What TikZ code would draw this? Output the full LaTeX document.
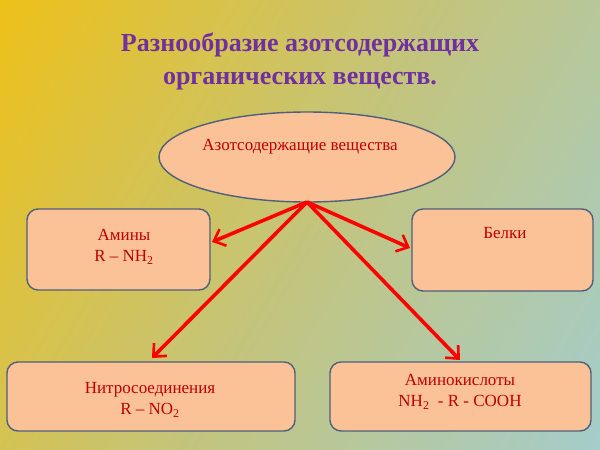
\documentclass[tikz,border=0pt]{standalone}
\usepackage{fontspec}
\setmainfont{Liberation Serif}
\usetikzlibrary{arrows.meta}
\definecolor{boxfill}{HTML}{FBC197}
\definecolor{edge}{HTML}{50607A}
\definecolor{txt}{HTML}{C00000}
\definecolor{ttl}{HTML}{7030A0}
\definecolor{bgA}{HTML}{F8C000}
\definecolor{bgB}{HTML}{9CCFE0}
\definecolor{bgM}{HTML}{C4C47A}
\begin{document}
\begin{tikzpicture}[x=1pt,y=-1pt,
  boxst/.style={draw=edge,line width=1.4pt,fill=boxfill,rounded corners=11pt},
  lbl/.style={text=txt,font=\fontsize{17}{21}\selectfont,align=center},
  arr/.style={draw=red,line width=3.6pt,-{Straight Barb[length=10pt,width=18pt,line width=2.6pt]}}]
\useasboundingbox (0,0) rectangle (600,450);
\shade[left color=bgA, right color=bgB, middle color=bgM, shading angle=60] (-200,-200) rectangle (800,650);
\node[text=ttl,font=\bfseries\fontsize{26}{33}\selectfont,align=center] (title) at (300,61) {Разнообразие азотсодержащих\\органических веществ.};
\draw[boxst] (27,209) rectangle (210,290);
\node[lbl] (am) at (124,247) {Амины\\R – NH\textsubscript{2}};
\draw[boxst] (412,209) rectangle (593,291);
\node[lbl] (be) at (505,233) {Белки};
\draw[boxst] (7,362) rectangle (295,431);
\node[lbl] (ni) at (150,400) {Нитросоединения\\R – NO\textsubscript{2}};
\draw[boxst] (330,362) rectangle (591,431);
\node[lbl] (ak) at (460,392) {Аминокислоты\\NH\textsubscript{2}\ \ - R - COOH};
\draw[boxst,rounded corners=0pt] (307,157) ellipse [x radius=148, y radius=45];
\node[lbl] (az) at (300,147) {Азотсодержащие вещества};
\coordinate (o) at (307,202);
\coordinate (e1) at (212,242);
\coordinate (e2) at (410,248);
\coordinate (e3) at (152,358);
\coordinate (e4) at (460,360);
\foreach \e in {e1,e2,e3,e4} \draw[arr] (o) -- (\e);
\end{tikzpicture}
\end{document}
